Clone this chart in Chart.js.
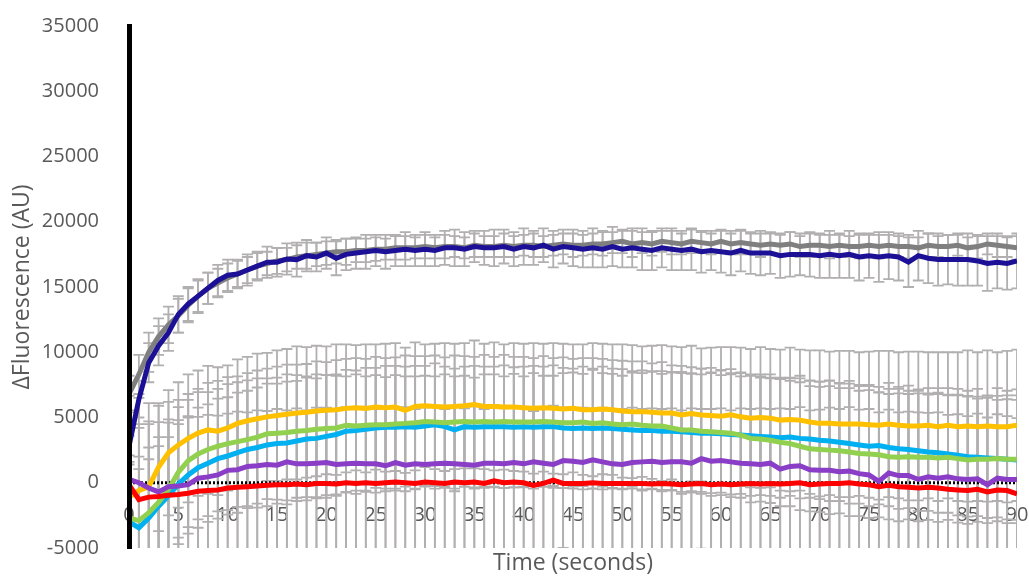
<!DOCTYPE html>
<html>
<head>
<meta charset="utf-8">
<script src="https://cdn.jsdelivr.net/npm/chart.js@4.4.1/dist/chart.umd.min.js"></script>
<style>
html, body { margin: 0; padding: 0; background: #fff; }
</style>
</head>
<body>
<canvas id="chart" width="1029" height="580"></canvas>
<script>
// time in seconds
const times = [
	0, 1, 2, 3, 4, 5, 6, 7, 8, 9,
	10, 11, 12, 13, 14, 15, 16, 17, 18, 19,
	20, 21, 22, 23, 24, 25, 26, 27, 28, 29,
	30, 31, 32, 33, 34, 35, 36, 37, 38, 39,
	40, 41, 42, 43, 44, 45, 46, 47, 48, 49,
	50, 51, 52, 53, 54, 55, 56, 57, 58, 59,
	60, 61, 62, 63, 64, 65, 66, 67, 68, 69,
	70, 71, 72, 73, 74, 75, 76, 77, 78, 79,
	80, 81, 82, 83, 84, 85, 86, 87, 88, 89,
	90
];

const grayVals = [
	6800, 8300, 10000, 11200, 12100, 12800, 13600, 14300, 14900, 15300,
	15700, 16000, 16300, 16600, 16800, 17000, 17100, 17300, 17400, 17500,
	17600, 17700, 17700, 17800, 17800, 17900, 17900, 18000, 18000, 18000,
	18100, 18000, 18100, 18100, 18000, 18200, 18100, 18100, 18200, 18100,
	18200, 18200, 18100, 18200, 18300, 18200, 18200, 18300, 18300, 18400,
	18500, 18300, 18400, 18300, 18500, 18400, 18300, 18500, 18400, 18300,
	18500, 18300, 18400, 18300, 18200, 18300, 18200, 18300, 18100, 18200,
	18200, 18100, 18200, 18100, 18100, 18200, 18100, 18200, 18100, 18100,
	18000, 18200, 18100, 18100, 18200, 18000, 18100, 18300, 18200, 18100,
	18000
];
const navyVals = [
	2800, 6400, 9200, 10500, 11500, 12900, 13700, 14300, 14900, 15500,
	15900, 16000, 16300, 16600, 16900, 16900, 17150, 17100, 17400, 17300,
	17600, 17200, 17500, 17600, 17700, 17800, 17700, 17800, 17900, 17800,
	17900, 17800, 18000, 18000, 17900, 18100, 18000, 18000, 18100, 17900,
	18100, 18000, 18200, 17900, 18100, 18000, 17900, 18000, 17900, 18100,
	17900, 18000, 17900, 17800, 18000, 17900, 17800, 17900, 17700, 17800,
	17700, 17600, 17800, 17600, 17600, 17600, 17400, 17500, 17500, 17500,
	17400, 17500, 17400, 17500, 17300, 17400, 17300, 17400, 17300, 16900,
	17400, 17200, 17100, 17100, 17100, 17100, 17000, 16800, 16900, 16800,
	17000
];
const yellowVals = [
	-1100, -600, -300, 1200, 2300, 2900, 3400, 3800, 4050, 3950,
	4200, 4550, 4750, 4900, 5050, 5150, 5250, 5350, 5400, 5500,
	5550, 5600, 5700, 5750, 5700, 5800, 5750, 5800, 5550, 5850,
	5900, 5850, 5800, 5850, 5900, 6000, 5850, 5850, 5800, 5800,
	5750, 5700, 5750, 5700, 5650, 5700, 5600, 5600, 5650, 5600,
	5500, 5450, 5450, 5400, 5350, 5350, 5200, 5300, 5200, 5150,
	5100, 5200, 5050, 4950, 5000, 4950, 4800, 4850, 4800, 4650,
	4550, 4550, 4500, 4500, 4500, 4450, 4400, 4500, 4400, 4350,
	4350, 4400, 4300, 4400, 4300, 4350, 4300, 4350, 4300, 4300,
	4400
];
const greenVals = [
	-2700, -2900, -2300, -1500, -500, 800, 1700, 2200, 2550, 2800,
	3000, 3150, 3300, 3500, 3750, 3800, 3850, 3950, 4000, 4100,
	4150, 4200, 4400, 4350, 4400, 4450, 4450, 4500, 4550, 4600,
	4700, 4650, 4600, 4650, 4700, 4650, 4700, 4650, 4700, 4650,
	4650, 4650, 4700, 4650, 4600, 4600, 4650, 4550, 4600, 4500,
	4450, 4500, 4400, 4350, 4350, 4200, 4050, 4050, 3950, 3900,
	3850, 3800, 3650, 3400, 3350, 3250, 3100, 3000, 2800, 2600,
	2550, 2500, 2450, 2350, 2250, 2200, 2150, 2000, 1950, 2000,
	1950, 1950, 1900, 1950, 1850, 1750, 1800, 1800, 1850, 1800,
	1800
];
const cyanVals = [
	-3000, -3450, -2700, -1800, -1000, -100, 600, 1150, 1500, 1850,
	2050, 2300, 2550, 2700, 2900, 3000, 3050, 3200, 3350, 3400,
	3550, 3700, 3950, 4000, 4100, 4200, 4250, 4250, 4300, 4250,
	4350, 4450, 4300, 4050, 4300, 4250, 4300, 4300, 4300, 4250,
	4300, 4250, 4300, 4300, 4200, 4150, 4200, 4150, 4200, 4150,
	4100, 4050, 4000, 4000, 3950, 3950, 3900, 3850, 3800, 3800,
	3750, 3700, 3650, 3600, 3550, 3500, 3450, 3500, 3400, 3350,
	3250, 3200, 3100, 3000, 2900, 2800, 2850, 2700, 2600, 2550,
	2450, 2350, 2300, 2200, 2100, 2000, 1950, 1900, 1850, 1800,
	1750
];
const purpleVals = [
	250, 0, -400, -700, -300, -250, -150, 350, 450, 600,
	950, 1000, 1250, 1300, 1400, 1350, 1600, 1450, 1450, 1500,
	1550, 1400, 1450, 1500, 1450, 1450, 1300, 1550, 1350, 1450,
	1400, 1450, 1500, 1450, 1400, 1350, 1500, 1500, 1450, 1550,
	1450, 1600, 1500, 1400, 1700, 1650, 1550, 1750, 1600, 1450,
	1400, 1550, 1600, 1650, 1550, 1600, 1600, 1500, 1850, 1650,
	1700, 1600, 1500, 1450, 1400, 1500, 1050, 1250, 1300, 1000,
	950, 950, 850, 900, 700, 600, 100, 750, 550, 550,
	250, 450, 350, 450, 300, 250, 300, -150, 350, 250,
	250
];
const redVals = [
	-150, -1300, -1100, -1050, -950, -900, -800, -650, -600, -550,
	-400, -350, -300, -250, -200, -150, -150, -100, -150, -50,
	-50, -100, 0, -50, 0, -50, 0, 50, 0, -50,
	50, 0, -50, 50, 0, 50, -50, 150, 0, 50,
	0, -200, -50, 200, -50, -50, -50, 0, -50, -50,
	-50, -50, -50, -100, -50, -100, -150, -100, -50, -150,
	-100, -150, -100, -50, -100, -50, -100, -50, 0, -150,
	-100, -50, -50, 0, -100, -150, -300, -200, -300, -350,
	-400, -350, -400, -500, -550, -600, -500, -700, -550, -600,
	-850
];

// error bar half-lengths
const grayErr = [
	1400, 1500, 1500, 1400, 1400, 1300, 1300, 1200, 1200, 1100,
	1100, 1000, 1000, 1000, 900, 1000, 900, 900, 1000, 900,
	900, 900, 1000, 900, 900, 900, 800, 900, 900, 800,
	900, 800, 900, 800, 800, 900, 800, 800, 900, 800,
	800, 900, 800, 800, 800, 900, 800, 800, 900, 800,
	900, 1000, 800, 900, 800, 900, 800, 900, 800, 800,
	900, 800, 900, 800, 900, 800, 800, 900, 800, 900,
	800, 900, 800, 800, 900, 800, 900, 800, 800, 900,
	800, 900, 800, 900, 800, 800, 900, 800, 900, 800,
	900
];
const navyErr = [
	1200, 1400, 1500, 1500, 1400, 1400, 1300, 1300, 1200, 1200,
	1200, 1100, 1200, 1100, 1200, 1100, 1200, 1300, 1200, 1100,
	1200, 1300, 1200, 1200, 1300, 1200, 1300, 1200, 1300, 1200,
	1300, 1200, 1300, 1400, 1300, 1200, 1300, 1400, 1300, 1300,
	1400, 1300, 1300, 1400, 1300, 1400, 1400, 1500, 1400, 1500,
	1400, 1500, 1600, 1500, 1500, 1600, 1500, 1600, 1600, 1500,
	1600, 1700, 1600, 1600, 1700, 1600, 1700, 1700, 1600, 1700,
	1700, 1800, 1700, 1800, 1800, 1700, 1900, 1800, 1800, 1900,
	1900, 1900, 2000, 1900, 2000, 2000, 1900, 2100, 2000, 2000,
	2100
];
const yellowErr = [
	4700, 4800, 4800, 4900, 4800, 4800, 4900, 4800, 4900, 4900,
	4800, 4900, 4900, 5000, 4900, 5000, 5000, 5100, 5000, 5000,
	4900, 5000, 4900, 4800, 4900, 4800, 4900, 4900, 4800, 4900,
	4700, 4800, 4900, 4800, 4800, 4900, 4800, 4900, 4800, 4900,
	4900, 5000, 4900, 5000, 5000, 4900, 5000, 5100, 5000, 5000,
	5100, 5100, 5000, 5100, 5200, 5100, 5200, 5200, 5100, 5200,
	5300, 5200, 5300, 5300, 5400, 5300, 5400, 5500, 5400, 5500,
	5600, 5500, 5600, 5600, 5500, 5600, 5700, 5600, 5600, 5700,
	5700, 5600, 5700, 5600, 5700, 5800, 5700, 5800, 5700, 5800,
	5800
];
const greenErr = [
	4800, 4900, 5000, 5000, 5100, 5000, 5100, 5000, 5100, 5000,
	5100, 5000, 5100, 5100, 5000, 5100, 5200, 5100, 5100, 5200,
	5100, 5200, 5100, 5200, 5100, 5200, 5100, 5100, 5200, 5100,
	5000, 5100, 5000, 5100, 5000, 5000, 5100, 5000, 5100, 5000,
	5000, 4900, 5000, 4900, 5000, 4900, 4900, 5000, 4900, 4900,
	4900, 4800, 4900, 4800, 4900, 4800, 4900, 4800, 4800, 4900,
	4800, 4900, 4800, 4900, 4800, 4800, 4900, 4800, 4900, 4800,
	4800, 4900, 4800, 4900, 4800, 4900, 4800, 4800, 4900, 4800,
	4900, 4800, 4900, 4800, 4900, 4900, 4800, 4900, 4800, 4900,
	4900
];
const cyanErr = [
	4400, 4500, 4500, 4600, 4500, 4600, 4500, 4600, 4500, 4600,
	4500, 4600, 4500, 4600, 4700, 4600, 4700, 4600, 4700, 4600,
	4700, 4600, 4700, 4600, 4700, 4600, 4700, 4700, 4600, 4700,
	4600, 4700, 4600, 4700, 4600, 4700, 4600, 4600, 4700, 4600,
	4600, 4700, 4600, 4700, 4600, 4600, 4700, 4600, 4700, 4600,
	4600, 4500, 4600, 4500, 4600, 4500, 4600, 4500, 4500, 4600,
	4500, 4600, 4500, 4600, 4500, 4500, 4600, 4500, 4600, 4500,
	4500, 4600, 4500, 4600, 4500, 4600, 4500, 4500, 4600, 4500,
	4600, 4500, 4600, 4500, 4600, 4600, 4500, 4600, 4500, 4600,
	4600
];
const purpleErr = [
	6400, 6500, 6500, 6600, 6500, 6600, 6500, 6600, 6500, 6600,
	6600, 6700, 6600, 6700, 6600, 6700, 6700, 6800, 6700, 6800,
	6700, 6800, 6700, 6800, 6700, 6800, 6800, 6700, 6800, 6700,
	6800, 6700, 6800, 6700, 6800, 6700, 6800, 6800, 6700, 6800,
	6700, 6800, 6700, 6800, 6700, 6800, 6800, 6900, 6800, 6900,
	6800, 6900, 6800, 6900, 6800, 6900, 6800, 6900, 6900, 6800,
	6900, 6800, 6900, 6800, 6900, 6800, 6900, 6800, 6900, 6800,
	6800, 6900, 6800, 6900, 6800, 6900, 6800, 6900, 6800, 6900,
	6900, 6800, 6900, 6800, 6900, 6800, 6900, 6800, 6900, 6800,
	6900
];
const redErr = [
	5700, 5800, 5800, 5700, 5800, 5700, 5800, 5700, 5800, 5700,
	5700, 5800, 5700, 5800, 5700, 5800, 5700, 5800, 5700, 5800,
	5800, 5700, 5800, 5700, 5800, 5700, 5800, 5700, 5800, 5700,
	5700, 5800, 5700, 5800, 5700, 5800, 5700, 5800, 5700, 5800,
	5800, 5700, 5800, 5700, 5800, 5700, 5800, 5700, 5800, 5700,
	5700, 5800, 5700, 5800, 5700, 5800, 5700, 5800, 5700, 5800,
	5800, 5700, 5800, 5700, 5800, 5700, 5800, 5700, 5800, 5700,
	5700, 5800, 5700, 5800, 5700, 5800, 5700, 5800, 5700, 5800,
	5800, 5700, 5800, 5700, 5800, 5700, 5800, 5700, 5800, 5700,
	5800
];

// dotted zero reference
const zeroTimes = [0, 90];
const zeroVals = [0, 0];

const yTicks = { min: -5000, max: 35000, step: 5000 };
const xTicks = { min: 0, max: 90, step: 5 };

const textColor = "#595959";
const fontFamily = "'Open Sans', 'Noto Sans', sans-serif";

const toPoints = (xs, ys) => xs.map((t, i) => ({ x: t, y: ys[i] }));

const lineSet = (label, vals, color, err) => ({
	label: label,
	data: toPoints(times, vals),
	borderColor: color,
	backgroundColor: color,
	borderWidth: 5,
	pointRadius: 0,
	tension: 0,
	fill: false,
	err: err
});

// draws the grey error bars under all lines
const errorBars = {
	id: "errorBars",
	beforeDatasetsDraw(chart) {
		const { ctx, chartArea } = chart;
		const x = chart.scales.x;
		const y = chart.scales.y;
		ctx.save();
		ctx.beginPath();
		ctx.rect(chartArea.left, chartArea.top, chartArea.right - chartArea.left, chartArea.bottom - chartArea.top);
		ctx.clip();
		ctx.strokeStyle = "#b1afaf";
		ctx.lineWidth = 1.8;
		chart.data.datasets.forEach(ds => {
			if (!ds.err) return;
			ds.data.forEach((p, i) => {
				const px = x.getPixelForValue(p.x);
				const hi = y.getPixelForValue(p.y + ds.err[i]);
				const lo = y.getPixelForValue(p.y - ds.err[i]);
				ctx.beginPath();
				ctx.moveTo(px, hi);
				ctx.lineTo(px, lo);
				ctx.moveTo(px - 5.5, hi);
				ctx.lineTo(px + 5.5, hi);
				ctx.moveTo(px - 5.5, lo);
				ctx.lineTo(px + 5.5, lo);
				ctx.stroke();
			});
		});
		ctx.restore();
	}
};

const axisTitles = {
	id: "axisTitles",
	afterDraw(chart) {
		const { ctx, chartArea } = chart;
		ctx.save();
		ctx.fillStyle = textColor;
		ctx.font = "23px " + fontFamily;
		ctx.textAlign = "center";
		ctx.textBaseline = "middle";
		ctx.fillText("Time (seconds)", (chartArea.left + chartArea.right) / 2, 563);
		ctx.translate(22, (chartArea.top + chartArea.bottom) / 2);
		ctx.rotate(-Math.PI / 2);
		ctx.fillText("ΔFluorescence (AU)", 0, 0);
		ctx.restore();
	}
};

new Chart(document.getElementById("chart"), {
	type: "line",
	data: {
		datasets: [
			lineSet("Red", redVals, "#ff0000", redErr),
			lineSet("Purple", purpleVals, "#8a3dc6", purpleErr),
			lineSet("Green", greenVals, "#92d050", greenErr),
			lineSet("Light blue", cyanVals, "#00b0f0", cyanErr),
			lineSet("Yellow", yellowVals, "#ffc000", yellowErr),
			lineSet("Navy", navyVals, "#1c1196", navyErr),
			lineSet("Gray", grayVals, "#7f7f7f", grayErr),
			{
				label: "Zero",
				data: toPoints(zeroTimes, zeroVals),
				borderColor: "#000000",
				borderWidth: 3,
				borderDash: [2, 2],
				pointRadius: 0,
				fill: false
			}
		]
	},
	options: {
		responsive: false,
		animation: false,
		events: [],
		layout: { padding: { top: 26, right: 12, bottom: 32, left: 0 } },
		plugins: {
			legend: { display: false },
			tooltip: { enabled: false }
		},
		scales: {
			x: {
				type: "linear",
				min: xTicks.min,
				max: xTicks.max,
				position: { y: 0 },
				grid: { display: false },
				border: { display: false },
				ticks: {
					stepSize: xTicks.step,
					autoSkip: false,
					maxRotation: 0,
					padding: 13,
					color: textColor,
					font: { family: fontFamily, size: 20 }
				},
				afterFit(scale) {
					scale.height = 0;
					scale.paddingLeft = 0;
					scale.paddingRight = 0;
				}
			},
			y: {
				type: "linear",
				min: yTicks.min,
				max: yTicks.max,
				grid: { display: false },
				border: { display: true, color: "#000000", width: 5, z: 1 },
				ticks: {
					stepSize: yTicks.step,
					padding: 22,
					color: textColor,
					font: { family: fontFamily, size: 20 },
					callback: (v) => String(v)
				},
				afterFit(scale) {
					scale.width = 129;
					scale.paddingTop = 0;
					scale.paddingBottom = 0;
				}
			}
		}
	},
	plugins: [errorBars, axisTitles]
});
</script>
</body>
</html>
